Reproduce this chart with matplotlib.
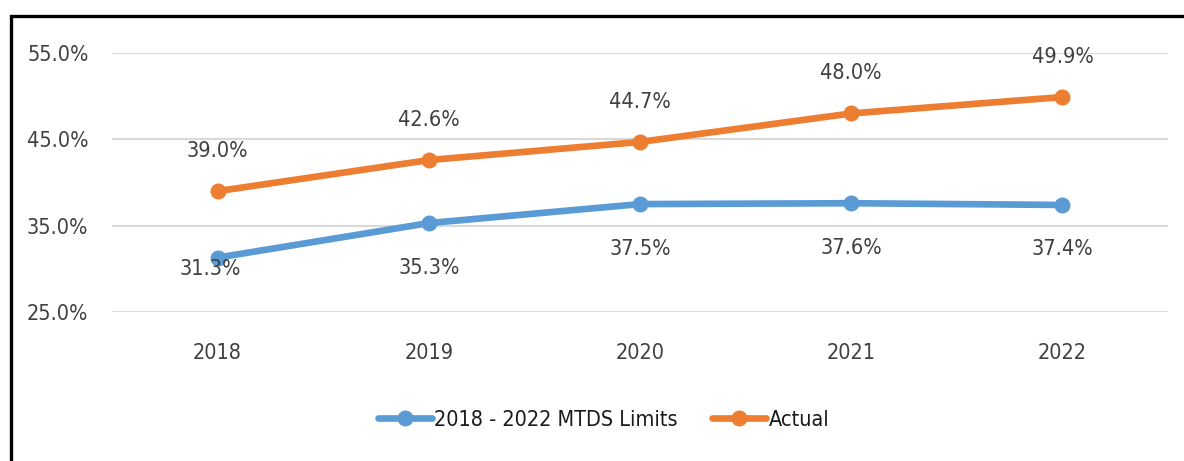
import matplotlib.pyplot as plt
from matplotlib.patches import Rectangle

years = ['2018', '2019', '2020', '2021', '2022']
limits = [31.3, 35.3, 37.5, 37.6, 37.4]
actual = [39.0, 42.6, 44.7, 48.0, 49.9]
yticks = [25, 35, 45, 55]

blue = '#5B9BD5'
orange = '#ED7D31'
txt = '#404040'
plt.rcParams['font.family'] = ['DejaVu Sans']
plt.rcParams['font.stretch'] = 'condensed'

fig = plt.figure(figsize=(11.84, 4.61), dpi=100)
ax = fig.add_axes([0.0946, 0.3232, 0.8919, 0.5618])

x = list(range(len(years)))
ax.plot(x, limits, color=blue, lw=4.8, marker='o', ms=10.5, label='2018 - 2022 MTDS Limits',
        solid_capstyle='round')
ax.plot(x, actual, color=orange, lw=4.8, marker='o', ms=10.5, label='Actual',
        solid_capstyle='round')

# labels
for i, v in enumerate(actual):
    ax.annotate('%.1f%%' % v, (i, v), xytext=(0, 29), textcoords='offset points',
                ha='center', va='center', fontsize=15.5, color=txt)
for i, v in enumerate(limits):
    off = -8 if i == 0 else -32
    ax.annotate('%.1f%%' % v, (i, v), xytext=(-5 if i == 0 else 0, off), textcoords='offset points',
                ha='center', va='center', fontsize=15.5, color=txt)

ax.set_xlim(-0.5, 4.5)
ax.set_ylim(25, 55)
ax.set_yticks(yticks)
ax.set_yticklabels(['%.1f%%' % t for t in yticks])
ax.set_xticks(x)
ax.set_xticklabels(years)
ax.tick_params(axis='y', length=0, pad=17, labelsize=15.5, labelcolor=txt)
ax.tick_params(axis='x', length=0, pad=22, labelsize=15.5, labelcolor=txt)
ax.grid(axis='y', color='#d9d9d9', lw=1.5)
ax.set_axisbelow(True)
for s in ax.spines.values():
    s.set_visible(False)

fig.legend(loc='center', bbox_to_anchor=(0.51, 0.089), ncol=2, frameon=False,
           fontsize=15.5, handlelength=2.5, handletextpad=0.1, columnspacing=1.6,
           labelcolor='#1a1a1a')

# outer frame
fig.patches.append(Rectangle((0.0093, -0.1), 1.1, 1.066, transform=fig.transFigure,
                             fill=False, ec='black', lw=2.4, clip_on=False))

fig.savefig('out.png', dpi=100)
